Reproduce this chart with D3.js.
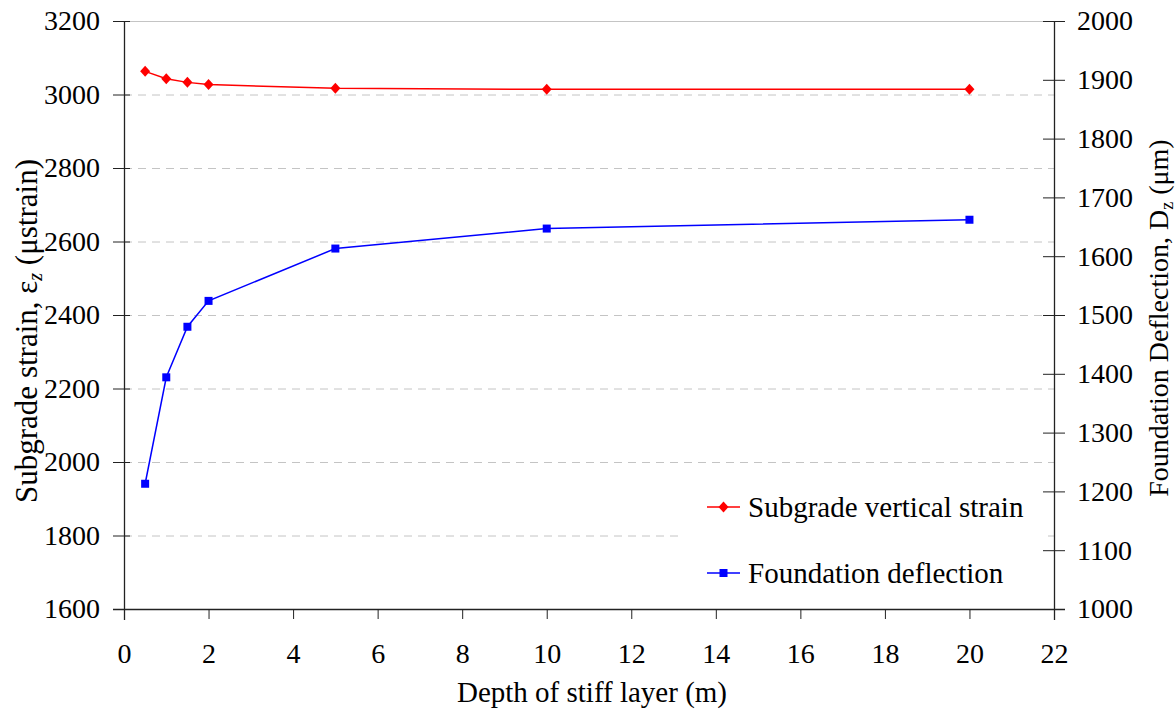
<!DOCTYPE html>
<html>
<head>
<meta charset="utf-8">
<script src="https://cdn.jsdelivr.net/npm/d3@7"></script>
<style>
  html, body { margin: 0; padding: 0; background: #fff; }
  svg text { font-family: "Liberation Serif", "Times New Roman", serif; fill: #000; }
</style>
</head>
<body>
<svg id="chart" width="1176" height="710"></svg>
<script>
// ---- data ----
const depth = [0.5, 1, 1.5, 2, 5, 10, 20];
const subgradeStrain = [3063, 3043, 3033, 3027, 3017, 3014, 3014];
const foundationDeflection = [1213, 1394, 1480, 1524, 1613, 1647, 1662];
const xTicks = [0, 2, 4, 6, 8, 10, 12, 14, 16, 18, 20, 22];
const yLeftTicks = [1600, 1800, 2000, 2200, 2400, 2600, 2800, 3000, 3200];
const yRightTicks = [1000, 1100, 1200, 1300, 1400, 1500, 1600, 1700, 1800, 1900, 2000];
const seriesNames = ["Subgrade vertical strain", "Foundation deflection"];

// ---- layout ----
const svg = d3.select("#chart");
const L = 124, R = 1054, T = 21, B = 609;
const x = d3.scaleLinear().domain([0, 22]).range([L, R]);
const yL = d3.scaleLinear().domain([1600, 3200]).range([B, T]);
const yR = d3.scaleLinear().domain([1000, 2000]).range([B, T]);
const fsTick = 28, fsTitle = 29;

// gridlines (left axis ticks)
svg.append("g").selectAll("line").data(yLeftTicks.filter(d => d > 1600)).join("line")
  .attr("x1", L).attr("x2", R)
  .attr("y1", d => yL(d) + 0.5).attr("y2", d => yL(d) + 0.5)
  .attr("stroke", "#c4c4c4").attr("stroke-width", 1)
  .attr("stroke-dasharray", d => d === 3200 ? null : "8,6");

// legend background (hides gridline)
svg.append("rect").attr("x", 684).attr("y", 474).attr("width", 360).attr("height", 128).attr("fill", "#fff");

// x axis
const xAxis = d3.axisBottom(x).tickValues(xTicks).tickSize(10).tickPadding(24).tickFormat(d3.format("d"));
const gx = svg.append("g").attr("transform", `translate(0,${B})`).call(xAxis);
gx.selectAll("text").attr("font-size", fsTick);
gx.select(".domain").attr("d", `M${L - 11},0.5H${R + 11}`).attr("stroke", "#222").attr("stroke-width", 1.3);
gx.selectAll(".tick line").attr("stroke", "#222");

// left axis
const yAxisL = d3.axisLeft(yL).tickValues(yLeftTicks).tickSize(11).tickPadding(13).tickFormat(d3.format("d"));
const gl = svg.append("g").attr("transform", `translate(${L},0)`).call(yAxisL);
gl.selectAll("text").attr("font-size", fsTick);
gl.select(".domain").attr("d", `M0.5,${T}V${B + 11}`).attr("stroke", "#222").attr("stroke-width", 1.3);
gl.selectAll(".tick line").attr("x1", 6).attr("stroke", "#222");

// right axis
const yAxisR = d3.axisRight(yR).tickValues(yRightTicks).tickSize(11).tickPadding(12).tickFormat(d3.format("d"));
const gr = svg.append("g").attr("transform", `translate(${R},0)`).call(yAxisR);
gr.selectAll("text").attr("font-size", fsTick);
gr.select(".domain").attr("d", `M0.5,${T}V${B + 11}`).attr("stroke", "#222").attr("stroke-width", 1.3);
gr.selectAll(".tick line").attr("x1", -11).attr("stroke", "#222");
svg.selectAll(".tick text").style("font-family", "'Liberation Serif', 'Times New Roman', serif");

// series
const strainData = depth.map((d, i) => [d, subgradeStrain[i]]);
const deflData = depth.map((d, i) => [d, foundationDeflection[i]]);

svg.append("path").datum(strainData)
  .attr("d", d3.line().x(d => x(d[0])).y(d => yL(d[1])))
  .attr("fill", "none").attr("stroke", "#ff0000").attr("stroke-width", 1.5);
svg.append("path").datum(deflData)
  .attr("d", d3.line().x(d => x(d[0])).y(d => yR(d[1])))
  .attr("fill", "none").attr("stroke", "#0000ff").attr("stroke-width", 1.5);

const diamondPath = "M0,-5.5L5,0L0,5.5L-5,0Z";
svg.append("g").selectAll("path").data(strainData).join("path")
  .attr("transform", d => `translate(${x(d[0])},${yL(d[1])})`)
  .attr("d", diamondPath).attr("fill", "#ff0000");
svg.append("g").selectAll("rect").data(deflData).join("rect")
  .attr("x", d => x(d[0]) - 4).attr("y", d => yR(d[1]) - 4)
  .attr("width", 8).attr("height", 8).attr("fill", "#0000ff");

// legend
const leg = [
  { name: seriesNames[0], color: "#ff0000", y: 507, shape: "diamond" },
  { name: seriesNames[1], color: "#0000ff", y: 573, shape: "square" }
];
leg.forEach(l => {
  svg.append("line").attr("x1", 707).attr("x2", 740).attr("y1", l.y).attr("y2", l.y)
    .attr("stroke", l.color).attr("stroke-width", 1.5);
  if (l.shape === "diamond") {
    svg.append("path").attr("transform", `translate(723.5,${l.y})`).attr("d", diamondPath).attr("fill", l.color);
  } else {
    svg.append("rect").attr("x", 719.5).attr("y", l.y - 4).attr("width", 8).attr("height", 8).attr("fill", l.color);
  }
  svg.append("text").attr("x", 748).attr("y", l.y + 10).attr("font-size", fsTitle).text(l.name);
});

// axis titles
svg.append("text").attr("x", 592).attr("y", 702).attr("text-anchor", "middle")
  .attr("font-size", fsTitle).text("Depth of stiff layer (m)");

const lt = svg.append("text").attr("transform", "translate(37,331) rotate(-90)")
  .attr("text-anchor", "middle").attr("font-size", 31);
lt.append("tspan").text("Subgrade strain, ε");
lt.append("tspan").attr("font-size", 20).attr("dy", 5).attr("font-style", "italic").text("z");
lt.append("tspan").attr("dy", -5).text(" (μstrain)");

const rt = svg.append("text").attr("transform", "translate(1168,318) rotate(-90)")
  .attr("text-anchor", "middle").attr("font-size", 28);
rt.append("tspan").text("Foundation Deflection, D");
rt.append("tspan").attr("font-size", 18).attr("dy", 5).text("z");
rt.append("tspan").attr("dy", -5).text(" (μm)");
</script>
</body>
</html>
